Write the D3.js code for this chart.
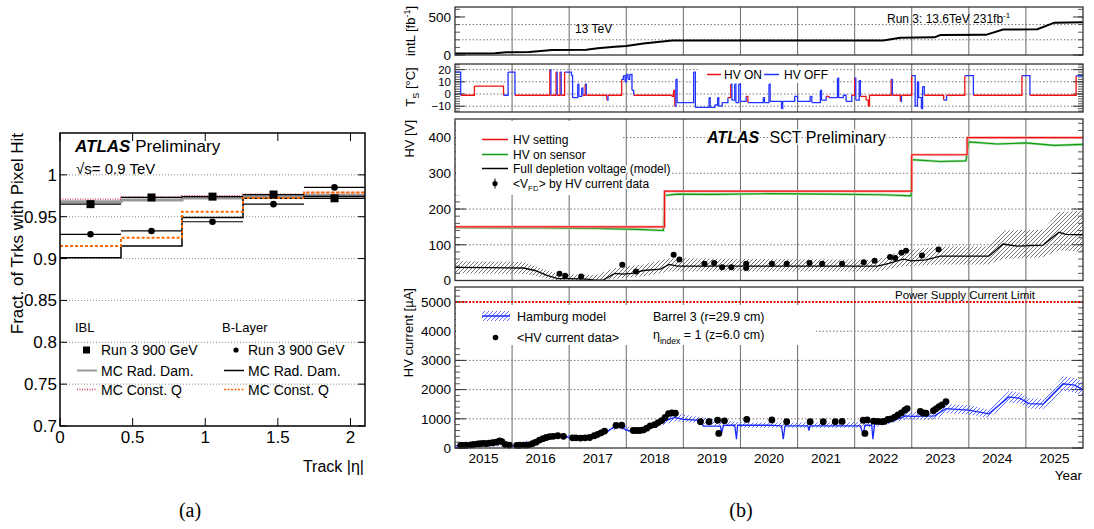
<!DOCTYPE html>
<html>
<head>
<meta charset="utf-8">
<script src="https://cdn.jsdelivr.net/npm/d3@7"></script>
<style>
  body { margin: 0; background: #fff; }
  svg text { font-family: "Liberation Sans", Arial, Helvetica, sans-serif; fill: #000; }
  .halo { paint-order: stroke; stroke: #fff; stroke-width: 3px; }
</style>
</head>
<body>
<script>
// ---------- (a) fraction of tracks with pixel hit ----------
var etaEdges = [0, 0.42, 0.84, 1.26, 1.68, 2.1];
var iblData = [0.965, 0.973, 0.974, 0.9765, 0.972];
var iblRadDam = [0.968, 0.970, 0.9725, 0.975, 0.9755];
var iblConstQ = [0.971, 0.9735, 0.975, 0.977, 0.979];
var blData = [0.929, 0.933, 0.944, 0.965, 0.985];
var blRadDam = [0.901, 0.915, 0.949, 0.972, 0.974];
var blConstQ = [0.915, 0.925, 0.956, 0.9725, 0.979];
var yTicksA = [0.7, 0.75, 0.8, 0.85, 0.9, 0.95, 1];
var xTicksA = [0, 0.5, 1, 1.5, 2];

// ---------- (b) SCT barrel 3 history ----------
var yearTicks = [2015, 2016, 2017, 2018, 2019, 2020, 2021, 2022, 2023, 2024, 2025];

// integrated luminosity [fb-1]
var lumiYears = [2015.0, 2015.7, 2015.9, 2016.3, 2016.7, 2017.3, 2017.5, 2017.8, 2018.0, 2018.3, 2018.8, 2022.5, 2022.8, 2023.4, 2023.5, 2024.3, 2024.6, 2025.2, 2025.5, 2026.0];
var lumiValues = [20, 22, 35, 40, 65, 70, 90, 110, 118, 150, 190, 190, 228, 232, 262, 265, 335, 338, 425, 430];

// sensor temperature [C], state 1 = HV on, 0 = HV off
var tsYears = [2015.00, 2015.10, 2015.34, 2015.85, 2015.93, 2016.05, 2016.66, 2016.68, 2016.77, 2016.79, 2016.84, 2016.86, 2016.92, 2017.04, 2017.06, 2017.15, 2017.17, 2017.22, 2017.24, 2017.28, 2017.30, 2017.66, 2017.68, 2017.92, 2017.95, 2017.98, 2018.00, 2018.03, 2018.06, 2018.10, 2018.13, 2018.80, 2018.83, 2018.85, 2018.87, 2018.89, 2019.18, 2019.21, 2019.45, 2019.47, 2019.55, 2019.60, 2019.62, 2019.68, 2019.78, 2019.83, 2019.85, 2019.90, 2019.92, 2019.97, 2020.00, 2020.10, 2020.13, 2020.40, 2020.42, 2020.50, 2020.52, 2020.72, 2020.74, 2020.95, 2021.00, 2021.22, 2021.25, 2021.40, 2021.42, 2021.50, 2021.55, 2021.70, 2021.72, 2021.80, 2021.85, 2021.95, 2022.00, 2022.02, 2022.08, 2022.10, 2022.20, 2022.24, 2022.26, 2022.64, 2022.66, 2022.80, 2022.82, 2023.00, 2023.06, 2023.10, 2023.12, 2023.17, 2023.19, 2023.22, 2023.56, 2023.61, 2023.93, 2024.08, 2024.93, 2025.07, 2025.88, 2026.00];
var tsValues = [18, -1, 6.5, -1, 18, -1, 20, -1, 18, -1, 18, -1, 18, 15, -3, 8, -2, 5, -1, 8, -1, -5, -1, 12, 15, 10, 16, 12, 16, 3, -1, -2, 3, -10, 12, -7, 18, -11, -3, -11, -9, -3, -10, -7, -3, 8, -5, 8, -7, 8, -6, -2, -7, -3, -7, 8, -6, -12, -6, -2, -6, -2, -7, 3, -5, -2, -3, 13, -3, -1, -6, -1, 13, -5, 11, -2, -5, -10, -1, 12, -1, -6, -1, 15, -10, 10, -3, -12, 6, -1, -5, -1, 15, -1, 15, -1, 15, 15];
var tsHvOn = [0, 1, 1, 0, 0, 1, 0, 1, 0, 1, 0, 1, 0, 0, 0, 0, 0, 0, 1, 0, 1, 0, 1, 0, 0, 0, 0, 0, 0, 0, 1, 1, 1, 0, 0, 0, 0, 0, 0, 0, 0, 0, 0, 0, 1, 0, 0, 0, 0, 0, 0, 1, 0, 0, 0, 0, 0, 0, 0, 0, 0, 0, 0, 0, 0, 1, 0, 0, 0, 0, 0, 1, 0, 0, 0, 1, 1, 1, 1, 0, 1, 0, 1, 0, 0, 0, 0, 0, 0, 1, 0, 1, 0, 1, 0, 1, 0, 0];

// HV [V]
var hvSetYears = [2015.0, 2018.67, 2023.0, 2023.97, 2026.0];
var hvSetValues = [150, 250, 352, 400, 400];
var hvSensorYears = [2015.0, 2016.5, 2017.5, 2018.2, 2018.65, 2018.67, 2018.9, 2019.5, 2020.5, 2021.5, 2022.5, 2022.99, 2023.0, 2023.5, 2023.95, 2024.0, 2024.5, 2025.0, 2025.5, 2026.0];
var hvSensorValues = [148, 147, 146, 143, 140, 238, 242, 241, 243, 242, 240, 237, 338, 333, 335, 388, 382, 385, 378, 381];
var vfdModelYears = [2015.0, 2015.6, 2016.2, 2016.4, 2016.6, 2016.8, 2017.0, 2017.3, 2017.45, 2017.6, 2017.8, 2017.95, 2018.1, 2018.3, 2018.6, 2018.75, 2018.9, 2022.4, 2022.6, 2022.85, 2023.0, 2023.25, 2023.5, 2024.35, 2024.6, 2024.85, 2025.3, 2025.58, 2025.7, 2026.0];
var vfdModelValues = [37, 36, 35, 28, 15, 5, 5, 4, 1, 2, 20, 18, 20, 28, 32, 45, 40, 40, 48, 60, 55, 58, 68, 68, 102, 96, 99, 135, 129, 128];
var vfdBandYears = [2015.0, 2016.2, 2016.8, 2017.45, 2017.8, 2018.3, 2018.75, 2022.4, 2022.85, 2023.5, 2024.35, 2024.6, 2025.3, 2025.58, 2026.0];
var vfdBandLo = [20, 19, 0, 0, 5, 12, 25, 25, 40, 45, 45, 60, 65, 85, 80];
var vfdBandHi = [54, 52, 18, 15, 35, 45, 62, 58, 85, 95, 95, 140, 142, 192, 195];
var vfdDataYears = [2016.83, 2016.93, 2017.21, 2017.93, 2018.17, 2018.83, 2018.93, 2019.37, 2019.54, 2019.68, 2019.84, 2020.10, 2020.10, 2020.55, 2020.81, 2021.21, 2021.43, 2021.78, 2022.16, 2022.35, 2022.62, 2022.71, 2022.82, 2022.90, 2023.18, 2023.47];
var vfdDataValues = [19, 13, 11, 44, 25, 72, 59, 47, 49, 37, 37, 47, 35, 47, 47, 49, 47, 47, 51, 55, 66, 63, 78, 83, 70, 87];

// HV current [uA]
var curModelYears = [2015.0, 2015.5, 2015.85, 2015.9, 2016.1, 2016.3, 2016.5, 2016.7, 2016.95, 2017.0, 2017.4, 2017.6, 2017.85, 2018.0, 2018.15, 2018.3, 2018.5, 2018.7, 2018.85, 2019.0, 2019.3, 2019.35, 2019.65, 2019.67, 2019.7, 2019.75, 2019.9, 2019.93, 2019.95, 2020.5, 2020.72, 2020.75, 2020.78, 2021.18, 2021.2, 2021.22, 2022.1, 2022.15, 2022.18, 2022.3, 2022.32, 2022.35, 2022.6, 2022.9, 2023.0, 2023.4, 2023.6, 2024.0, 2024.35, 2024.7, 2024.9, 2025.05, 2025.3, 2025.65, 2025.85, 2026.0];
var curModelValues = [70, 120, 180, 60, 70, 150, 300, 400, 400, 350, 360, 500, 780, 620, 540, 620, 750, 950, 1050, 980, 950, 750, 750, 500, 760, 780, 780, 300, 780, 780, 760, 300, 760, 760, 600, 760, 760, 450, 780, 780, 300, 820, 880, 1100, 1080, 1100, 1350, 1300, 1170, 1750, 1700, 1520, 1500, 2200, 2150, 2000];
var curBandYears = [2015.0, 2016.0, 2016.7, 2017.5, 2017.85, 2018.15, 2018.85, 2019.3, 2020.0, 2021.0, 2022.0, 2022.4, 2022.9, 2023.4, 2023.6, 2024.0, 2024.35, 2024.7, 2024.9, 2025.05, 2025.3, 2025.65, 2025.85, 2026.0];
var curBandLo = [40, 40, 340, 330, 680, 470, 920, 850, 690, 690, 690, 730, 980, 970, 1190, 1150, 1030, 1560, 1520, 1350, 1330, 1950, 1900, 1770];
var curBandHi = [110, 110, 460, 430, 880, 620, 1180, 1060, 870, 870, 880, 920, 1230, 1230, 1510, 1460, 1310, 1950, 1890, 1700, 1680, 2450, 2400, 2250];
var curDataYears = [2015.10, 2015.15, 2015.20, 2015.28, 2015.33, 2015.40, 2015.45, 2015.50, 2015.55, 2015.60, 2015.66, 2015.72, 2015.78, 2015.82, 2015.88, 2015.95, 2016.08, 2016.13, 2016.20, 2016.25, 2016.30, 2016.36, 2016.42, 2016.48, 2016.54, 2016.60, 2016.66, 2016.72, 2016.80, 2016.90, 2017.06, 2017.12, 2017.20, 2017.28, 2017.36, 2017.44, 2017.50, 2017.56, 2017.62, 2017.82, 2017.92, 2018.12, 2018.18, 2018.24, 2018.30, 2018.36, 2018.42, 2018.50, 2018.56, 2018.62, 2018.68, 2018.74, 2018.80, 2018.86, 2019.30, 2019.45, 2019.60, 2019.62, 2019.72, 2020.11, 2020.55, 2020.81, 2021.22, 2021.45, 2021.66, 2021.78, 2022.15, 2022.18, 2022.22, 2022.33, 2022.40, 2022.47, 2022.52, 2022.58, 2022.64, 2022.70, 2022.76, 2022.82, 2022.88, 2022.92, 2023.15, 2023.20, 2023.25, 2023.38, 2023.43, 2023.48, 2023.53, 2023.60];
var curDataValues = [85, 90, 95, 105, 120, 140, 150, 160, 150, 170, 180, 200, 240, 220, 120, 100, 90, 95, 100, 100, 110, 150, 200, 270, 320, 360, 390, 400, 420, 400, 350, 350, 340, 350, 360, 420, 470, 520, 580, 770, 780, 600, 600, 600, 620, 680, 760, 800, 870, 940, 1050, 1180, 1200, 1190, 900, 900, 950, 500, 930, 980, 960, 900, 900, 900, 900, 910, 950, 500, 960, 920, 910, 900, 910, 980, 1000, 1060, 1130, 1200, 1300, 1350, 1250, 1200, 1190, 1280, 1350, 1420, 1480, 1590];

var svg = d3.select('body').append('svg')
    .attr('width', 1094)
    .attr('height', 529);
svg.append('rect').attr('width', 1094).attr('height', 529).attr('fill', '#fff');

var defs = svg.append('defs');
function hatch(id, color, w) {
    var p = defs.append('pattern')
        .attr('id', id)
        .attr('patternUnits', 'userSpaceOnUse')
        .attr('width', 4).attr('height', 4);
    p.append('path')
        .attr('d', 'M-1,1 l2,-2 M0,4 l4,-4 M3,5 l2,-2')
        .attr('stroke', color).attr('stroke-width', w);
}
hatch('hatchGray', '#666', 0.9);
hatch('hatchBlue', '#4a5cff', 0.9);

function zip(xs, ys) { return xs.map(function (v, i) { return [v, ys[i]]; }); }

// ================= panel (a) =================
var xA = d3.scaleLinear().domain([0, 2.1]).range([60, 365]);
var yA = d3.scaleLinear().domain([0.7, 1.05]).range([426, 133]);
var gA = svg.append('g');

gA.selectAll('.gridA').data(yTicksA.slice(1)).enter().append('line')
    .attr('x1', xA(0)).attr('x2', xA(2.1))
    .attr('y1', function (d) { return yA(d); }).attr('y2', function (d) { return yA(d); })
    .attr('stroke', '#888').attr('stroke-width', 1).attr('stroke-dasharray', '1,2');

function stepPts(vals) {
    var pts = vals.map(function (v, i) { return [etaEdges[i], v]; });
    pts.push([etaEdges[etaEdges.length - 1], vals[vals.length - 1]]);
    return pts;
}
var stepLine = d3.line()
    .x(function (d) { return xA(d[0]); })
    .y(function (d) { return yA(d[1]); })
    .curve(d3.curveStepAfter);

gA.append('path').attr('d', stepLine(stepPts(iblRadDam)))
    .attr('fill', 'none').attr('stroke', '#999').attr('stroke-width', 3);
gA.append('path').attr('d', stepLine(stepPts(iblConstQ)))
    .attr('fill', 'none').attr('stroke', '#d63a55').attr('stroke-width', 1.4).attr('stroke-dasharray', '1,1.5');
gA.append('path').attr('d', stepLine(stepPts(blRadDam)))
    .attr('fill', 'none').attr('stroke', '#000').attr('stroke-width', 1.5);
gA.append('path').attr('d', stepLine(stepPts(blConstQ)))
    .attr('fill', 'none').attr('stroke', '#ff6a00').attr('stroke-width', 2).attr('stroke-dasharray', '3,2');

// data points with bin-width bars
function binPoints(vals, shape) {
    vals.forEach(function (v, i) {
        gA.append('line')
            .attr('x1', xA(etaEdges[i])).attr('x2', xA(etaEdges[i + 1]))
            .attr('y1', yA(v)).attr('y2', yA(v))
            .attr('stroke', '#000').attr('stroke-width', 1.2);
        var cx = xA((etaEdges[i] + etaEdges[i + 1]) / 2);
        if (shape === 'square') {
            gA.append('rect').attr('x', cx - 4).attr('y', yA(v) - 4)
                .attr('width', 8).attr('height', 8).attr('fill', '#000');
        } else {
            gA.append('circle').attr('cx', cx).attr('cy', yA(v)).attr('r', 3.3).attr('fill', '#000');
        }
    });
}
binPoints(iblData, 'square');
binPoints(blData, 'circle');

// frame & ticks
gA.append('rect').attr('x', 60).attr('y', 133).attr('width', 305).attr('height', 293)
    .attr('fill', 'none').attr('stroke', '#000').attr('stroke-width', 1.5);
yTicksA.forEach(function (t) {
    gA.append('line').attr('x1', 60).attr('x2', 67).attr('y1', yA(t)).attr('y2', yA(t)).attr('stroke', '#000');
    gA.append('line').attr('x1', 358).attr('x2', 365).attr('y1', yA(t)).attr('y2', yA(t)).attr('stroke', '#000');
    gA.append('text').attr('x', 57).attr('y', yA(t)).attr('dy', '0.35em')
        .attr('text-anchor', 'end').attr('font-size', 17).text(String(t));
});
xTicksA.forEach(function (t) {
    gA.append('line').attr('x1', xA(t)).attr('x2', xA(t)).attr('y1', 426).attr('y2', 418).attr('stroke', '#000');
    gA.append('line').attr('x1', xA(t)).attr('x2', xA(t)).attr('y1', 133).attr('y2', 141).attr('stroke', '#000');
    gA.append('text').attr('x', xA(t)).attr('y', 443)
        .attr('text-anchor', 'middle').attr('font-size', 17).text(String(t));
});

gA.append('text').attr('transform', 'translate(23,133) rotate(-90)')
    .attr('text-anchor', 'end').attr('font-size', 17).text('Fract. of Trks with Pixel Hit');
gA.append('text').attr('x', 364).attr('y', 472).attr('text-anchor', 'end')
    .attr('font-size', 16).text('Track |η|');

var atl = gA.append('text').attr('x', 75).attr('y', 152).attr('font-size', 17);
atl.append('tspan').attr('font-weight', 'bold').attr('font-style', 'italic').text('ATLAS');
atl.append('tspan').text(' Preliminary');
gA.append('text').attr('x', 76).attr('y', 174).attr('font-size', 15).text('√s= 0.9 TeV');

// legend
gA.append('text').attr('x', 75).attr('y', 332).attr('font-size', 13).text('IBL');
gA.append('text').attr('x', 222).attr('y', 332).attr('font-size', 13).text('B-Layer');
var legA = [
    { x: 77, y: 350, kind: 'square', label: 'Run 3 900 GeV' },
    { x: 77, y: 370.5, kind: 'line', stroke: '#999', w: 2, dash: null, label: 'MC Rad. Dam.' },
    { x: 77, y: 389.5, kind: 'line', stroke: '#d63a55', w: 1.4, dash: '1,1.5', label: 'MC Const. Q' },
    { x: 224, y: 350, kind: 'circle', label: 'Run 3 900 GeV' },
    { x: 224, y: 370.5, kind: 'line', stroke: '#000', w: 1.5, dash: null, label: 'MC Rad. Dam.' },
    { x: 224, y: 389.5, kind: 'line', stroke: '#ff6a00', w: 1.5, dash: '2,1.5', label: 'MC Const. Q' }
];
legA.forEach(function (e) {
    if (e.kind === 'square') {
        gA.append('rect').attr('x', e.x + 6).attr('y', e.y - 3.5).attr('width', 7).attr('height', 7).attr('fill', '#000');
    } else if (e.kind === 'circle') {
        gA.append('circle').attr('cx', e.x + 12).attr('cy', e.y).attr('r', 2.6).attr('fill', '#000');
    } else {
        gA.append('line').attr('x1', e.x).attr('x2', e.x + 20).attr('y1', e.y).attr('y2', e.y)
            .attr('stroke', e.stroke).attr('stroke-width', e.w).attr('stroke-dasharray', e.dash);
    }
    gA.append('text').attr('x', e.x + 24).attr('y', e.y + 5).attr('font-size', 14).text(e.label);
});

svg.append('text').attr('x', 190).attr('y', 517).attr('text-anchor', 'middle')
    .style('font-family', '"Liberation Serif", "DejaVu Serif", serif')
    .attr('font-size', 20).text('(a)');

// ================= panel (b) =================
var x0 = 455, x1 = 1083;
var xB = d3.scaleLinear().domain([2015, 2026]).range([x0, x1]);
var gB = svg.append('g');

var yL = d3.scaleLinear().domain([0, 631]).range([55, 7]);
var yT = d3.scaleLinear().domain([-14.75, 24.6]).range([112, 64]);
var yH = d3.scaleLinear().domain([0, 452]).range([280.5, 119]);
var yC = d3.scaleLinear().domain([0, 5514]).range([448, 287]);

function panelBase(y, grid, majors, minors, labels, majLen, fs) {
    var top = y.range()[1], bot = y.range()[0];
    grid.forEach(function (v) {
        gB.append('line').attr('x1', x0).attr('x2', x1).attr('y1', y(v)).attr('y2', y(v))
            .attr('stroke', '#777').attr('stroke-dasharray', '1.5,2');
    });
    yearTicks.slice(1).forEach(function (yr) {
        gB.append('line').attr('x1', xB(yr)).attr('x2', xB(yr)).attr('y1', top).attr('y2', bot)
            .attr('stroke', '#777').attr('stroke-width', 1.1);
    });
    minors.forEach(function (v) {
        if (y(v) < top || y(v) > bot) return;
        gB.append('line').attr('x1', x0).attr('x2', x0 + 5).attr('y1', y(v)).attr('y2', y(v)).attr('stroke', '#555');
        gB.append('line').attr('x1', x1 - 5).attr('x2', x1).attr('y1', y(v)).attr('y2', y(v)).attr('stroke', '#555');
    });
    majors.forEach(function (v) {
        gB.append('line').attr('x1', x0).attr('x2', x0 + majLen).attr('y1', y(v)).attr('y2', y(v)).attr('stroke', '#333');
        gB.append('line').attr('x1', x1 - majLen).attr('x2', x1).attr('y1', y(v)).attr('y2', y(v)).attr('stroke', '#333');
    });
    labels.forEach(function (v) {
        gB.append('text').attr('x', 451).attr('y', y(v)).attr('dy', '0.36em')
            .attr('text-anchor', 'end').attr('font-size', fs).text(v < 0 ? '\u2212' + (-v) : String(v));
    });
}
function frame(y) {
    var top = y.range()[1], bot = y.range()[0];
    gB.append('rect').attr('x', x0).attr('y', top).attr('width', x1 - x0).attr('height', bot - top)
        .attr('fill', 'none').attr('stroke', '#333').attr('stroke-width', 1.3);
}

// ---- intL strip ----
panelBase(yL, [200, 400], [0, 500], d3.range(0, 640, 100), [0, 500], 10, 13.5);
gB.append('path').attr('d', d3.line().x(function (d) { return xB(d[0]); }).y(function (d) { return yL(d[1]); })(zip(lumiYears, lumiValues)))
    .attr('fill', 'none').attr('stroke', '#000').attr('stroke-width', 2);
gB.append('text').attr('x', 575).attr('y', 33).attr('font-size', 12).text('13 TeV');
var r3 = gB.append('text').attr('x', 887).attr('y', 23).attr('font-size', 12);
r3.append('tspan').text('Run 3: 13.6TeV  231fb');
r3.append('tspan').attr('dy', -5).attr('font-size', 8).text('-1');
frame(yL);
var tl = gB.append('text').attr('transform', 'translate(415,31) rotate(-90)')
    .attr('text-anchor', 'middle').attr('font-size', 13);
tl.append('tspan').text('intL [fb');
tl.append('tspan').attr('dy', -5).attr('font-size', 9).text('-1');
tl.append('tspan').attr('dy', 5).text(']');

// ---- temperature strip ----
panelBase(yT, [20, 10, 0, -10], [-10, 0, 10, 20], d3.range(-14, 25, 2), [-10, 0, 10, 20], 10, 11.5);
for (var i = 0; i < tsYears.length - 1; i++) {
    gB.append('path')
        .attr('d', 'M' + xB(tsYears[i]) + ',' + yT(tsValues[i]) + 'H' + xB(tsYears[i + 1]) + 'V' + yT(tsValues[i + 1]))
        .attr('fill', 'none')
        .attr('stroke', tsHvOn[i] ? '#ee1111' : '#2233ff')
        .attr('stroke-width', 1.3);
}
gB.append('rect').attr('x', 698).attr('y', 66).attr('width', 135).attr('height', 17).attr('fill', '#fff');
gB.append('line').attr('x1', 707).attr('x2', 721).attr('y1', 74.5).attr('y2', 74.5).attr('stroke', '#ee1111').attr('stroke-width', 1.5);
gB.append('text').attr('x', 724).attr('y', 79).attr('font-size', 12).text('HV ON');
gB.append('line').attr('x1', 764).attr('x2', 779).attr('y1', 74.5).attr('y2', 74.5).attr('stroke', '#2233ff').attr('stroke-width', 1.5);
gB.append('text').attr('x', 784).attr('y', 79).attr('font-size', 12).text('HV OFF');
frame(yT);
var tt = gB.append('text').attr('transform', 'translate(415,87) rotate(-90)')
    .attr('text-anchor', 'middle').attr('font-size', 13);
tt.append('tspan').text('T');
tt.append('tspan').attr('dy', 4).attr('font-size', 9).text('S');
tt.append('tspan').attr('dy', -4).text(' [°C]');

// ---- HV strip ----
panelBase(yH, [100, 200, 300, 400], [0, 100, 200, 300, 400], d3.range(0, 452, 20), [0, 100, 200, 300, 400], 11, 13.5);
gB.append('path')
    .attr('d', d3.area().x(function (d) { return xB(d[0]); })
        .y0(function (d) { return yH(d[1]); }).y1(function (d) { return yH(d[2]); })(vfdBandYears.map(function (v, i) { return [v, vfdBandLo[i], vfdBandHi[i]]; })))
    .attr('fill', 'url(#hatchGray)').attr('stroke', 'none');
var lineH = d3.line().x(function (d) { return xB(d[0]); }).y(function (d) { return yH(d[1]); });
gB.append('path').attr('d', lineH(zip(vfdModelYears, vfdModelValues)))
    .attr('fill', 'none').attr('stroke', '#000').attr('stroke-width', 1.3);
gB.append('path').attr('d', lineH(zip(hvSensorYears, hvSensorValues)))
    .attr('fill', 'none').attr('stroke', '#a8e0a8').attr('stroke-width', 2.6);
gB.append('path').attr('d', lineH(zip(hvSensorYears, hvSensorValues)))
    .attr('fill', 'none').attr('stroke', '#119911').attr('stroke-width', 1.2);
var stepH = d3.line().x(function (d) { return xB(d[0]); }).y(function (d) { return yH(d[1]); }).curve(d3.curveStepAfter);
gB.append('path').attr('d', stepH(zip(hvSetYears, hvSetValues)))
    .attr('fill', 'none').attr('stroke', '#f6b4b4').attr('stroke-width', 2.6);
gB.append('path').attr('d', stepH(zip(hvSetYears, hvSetValues)))
    .attr('fill', 'none').attr('stroke', '#ee1111').attr('stroke-width', 1.2);
vfdDataYears.forEach(function (yr, i) {
    gB.append('circle').attr('cx', xB(yr)).attr('cy', yH(vfdDataValues[i])).attr('r', 3).attr('fill', '#000');
});
// legend
gB.append('rect').attr('x', 456).attr('y', 121).attr('width', 166).attr('height', 74).attr('fill', '#fff');
var legH = [
    { y: 139.5, color: '#ee1111', label: ['HV setting'] },
    { y: 154.5, color: '#119911', label: ['HV on sensor'] },
    { y: 168.5, color: '#000', label: ['Full depletion voltage (model)'] },
    { y: 183.5, color: null, label: ['<V', 'FD', '> by HV current data'] }
];
legH.forEach(function (e) {
    if (e.color) {
        gB.append('line').attr('x1', 482).attr('x2', 508).attr('y1', e.y).attr('y2', e.y)
            .attr('stroke', e.color).attr('stroke-width', 1.5);
    } else {
        gB.append('line').attr('x1', 495).attr('x2', 495).attr('y1', e.y - 5).attr('y2', e.y + 5).attr('stroke', '#000');
        gB.append('circle').attr('cx', 495).attr('cy', e.y).attr('r', 2.6).attr('fill', '#000');
    }
    var t = gB.append('text').attr('class', 'halo').attr('x', 513).attr('y', e.y + 4).attr('font-size', 12);
    t.append('tspan').text(e.label[0]);
    if (e.label.length > 1) {
        t.append('tspan').attr('dy', 3).attr('font-size', 8).text(e.label[1]);
        t.append('tspan').attr('dy', -3).text(e.label[2]);
    }
});
var sct = gB.append('text').attr('class', 'halo').attr('x', 707).attr('y', 143).attr('font-size', 16);
sct.append('tspan').attr('font-weight', 'bold').attr('font-style', 'italic').text('ATLAS');
sct.append('tspan').attr('dx', 6).text(' SCT Preliminary');
frame(yH);
gB.append('text').attr('transform', 'translate(414,120) rotate(-90)')
    .attr('text-anchor', 'end').attr('font-size', 13).text('HV [V]');

// ---- HV current strip ----
panelBase(yC, [1000, 2000, 3000, 4000], [0, 1000, 2000, 3000, 4000, 5000], d3.range(0, 5514, 200), [0, 1000, 2000, 3000, 4000, 5000], 11, 13.5);
gB.append('path')
    .attr('d', d3.area().x(function (d) { return xB(d[0]); })
        .y0(function (d) { return yC(d[1]); }).y1(function (d) { return yC(d[2]); })(curBandYears.map(function (v, i) { return [v, curBandLo[i], curBandHi[i]]; })))
    .attr('fill', 'url(#hatchBlue)').attr('stroke', 'none');
gB.append('path').attr('d', d3.line().x(function (d) { return xB(d[0]); }).y(function (d) { return yC(d[1]); })(zip(curModelYears, curModelValues)))
    .attr('fill', 'none').attr('stroke', '#1a2bff').attr('stroke-width', 1.3);
curDataYears.forEach(function (yr, i) {
    gB.append('circle').attr('cx', xB(yr)).attr('cy', yC(curDataValues[i])).attr('r', 3.4).attr('fill', '#000');
});
gB.append('line').attr('x1', x0).attr('x2', x1).attr('y1', yC(5000)).attr('y2', yC(5000))
    .attr('stroke', '#e00').attr('stroke-width', 2).attr('stroke-dasharray', '2,1.5');
gB.append('text').attr('x', 965).attr('y', 299).attr('text-anchor', 'middle').attr('font-size', 11.5)
    .text('Power Supply Current Limit');
gB.append('rect').attr('x', 456).attr('y', 305).attr('width', 360).attr('height', 40).attr('fill', '#fff');
gB.append('rect').attr('x', 482).attr('y', 311).attr('width', 28).attr('height', 10).attr('fill', 'url(#hatchBlue)');
gB.append('line').attr('x1', 482).attr('x2', 510).attr('y1', 316).attr('y2', 316).attr('stroke', '#1a2bff').attr('stroke-width', 1.5);
gB.append('text').attr('x', 517).attr('y', 320.5).attr('font-size', 12.5).text('Hamburg model');
gB.append('circle').attr('cx', 495.5).attr('cy', 337.5).attr('r', 2.8).attr('fill', '#000');
gB.append('text').attr('x', 517).attr('y', 342).attr('font-size', 12.5).text('<HV current data>');
gB.append('text').attr('x', 653).attr('y', 320.5).attr('font-size', 12.5).text('Barrel 3 (r=29.9 cm)');
var eta = gB.append('text').attr('x', 653).attr('y', 339).attr('font-size', 12.5);
eta.append('tspan').text('η');
eta.append('tspan').attr('dy', 5).attr('font-size', 8.5).text('index');
eta.append('tspan').attr('dy', -5).text(' = 1 (z=6.0 cm)');
frame(yC);
gB.append('text').attr('transform', 'translate(413,288) rotate(-90)')
    .attr('text-anchor', 'end').attr('font-size', 13).text('HV current [µA]');

// year labels
yearTicks.forEach(function (yr) {
    gB.append('text').attr('x', xB(yr + 0.5)).attr('y', 463).attr('text-anchor', 'middle')
        .attr('font-size', 13.5).text(String(yr));
});
gB.append('text').attr('x', 1082).attr('y', 480).attr('text-anchor', 'end').attr('font-size', 13.5).text('Year');

svg.append('text').attr('x', 741).attr('y', 517).attr('text-anchor', 'middle')
    .style('font-family', '"Liberation Serif", "DejaVu Serif", serif')
    .attr('font-size', 20).text('(b)');
</script>
</body>
</html>
